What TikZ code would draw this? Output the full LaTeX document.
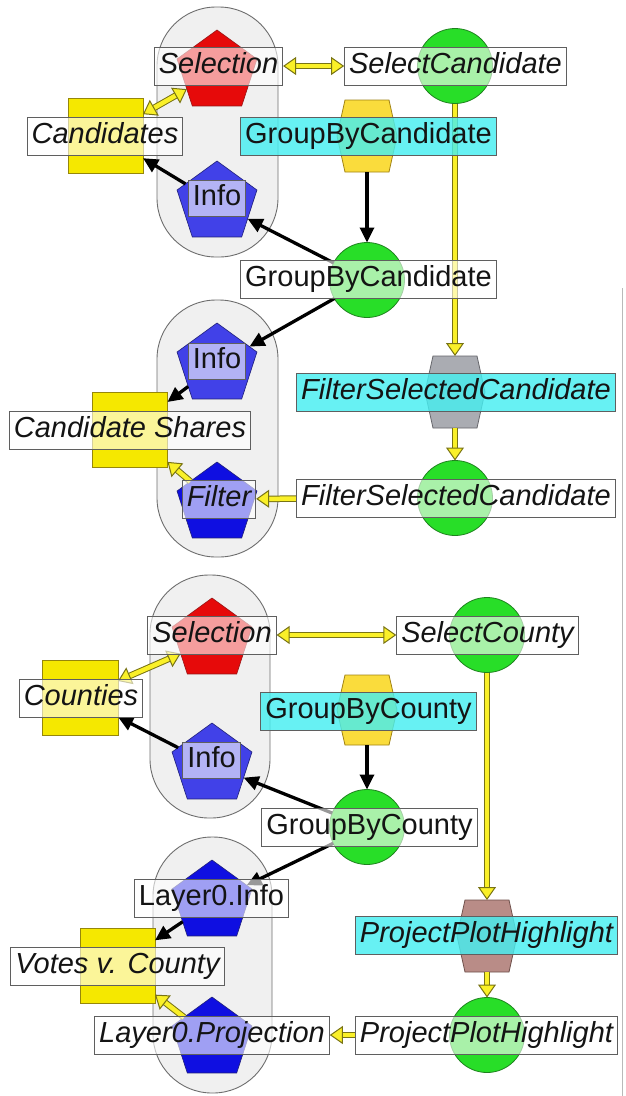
\documentclass[tikz,border=0pt]{standalone}
\usepackage{fontspec}
\setmainfont{Liberation Sans}
\usetikzlibrary{shapes.geometric,arrows.meta}
\definecolor{capfill}{RGB}{240,240,240}
\definecolor{capdraw}{RGB}{110,110,110}
\definecolor{redp}{RGB}{230,10,10}
\definecolor{reddraw}{RGB}{150,20,20}
\definecolor{bluea}{RGB}{65,65,232}
\definecolor{blueb}{RGB}{15,15,225}
\definecolor{bluedraw}{RGB}{30,30,120}
\definecolor{ylw}{RGB}{245,232,0}
\definecolor{ylwdraw}{RGB}{150,135,10}
\definecolor{grn}{RGB}{40,222,40}
\definecolor{grndraw}{RGB}{30,130,30}
\definecolor{hexy}{RGB}{250,220,60}
\definecolor{hexydraw}{RGB}{160,130,20}
\definecolor{hexg}{RGB}{170,172,178}
\definecolor{hexgdraw}{RGB}{100,100,105}
\definecolor{hexb}{RGB}{185,140,135}
\definecolor{hexbdraw}{RGB}{110,80,75}
\definecolor{cyn}{RGB}{70,238,240}
\definecolor{labdraw}{RGB}{95,95,95}
\definecolor{txt}{RGB}{20,20,20}
\definecolor{arry}{RGB}{250,240,40}
\definecolor{arrdraw}{RGB}{120,115,20}
\pgfdeclarelayer{capl}
\pgfdeclarelayer{shapel}
\pgfdeclarelayer{edgel}
\pgfsetlayers{capl,shapel,edgel,main}
\newcommand{\hexdraw}[2]{\draw[#2] ([xshift=8pt]#1.north west) -- ([xshift=-8pt]#1.north east) -- (#1.east) -- ([xshift=-8pt]#1.south east) -- ([xshift=8pt]#1.south west) -- (#1.west) -- cycle;}
\tikzset{
  capsule/.style={rectangle, draw=capdraw, fill=capfill, line width=0.9pt, rounded corners=59pt, inner sep=0pt},
  pent/.style={regular polygon, regular polygon sides=5, minimum size=84pt, inner sep=0pt, outer sep=0pt, line width=0.6pt},
  pred/.style={pent, fill=redp, draw=reddraw},
  pbluea/.style={pent, fill=bluea, draw=bluedraw},
  pblueb/.style={pent, fill=blueb, draw=bluedraw},
  ybox/.style={rectangle, minimum width=75pt, minimum height=75pt, fill=ylw, draw=ylwdraw, line width=0.8pt, inner sep=0pt, outer sep=0pt},
  disc/.style={circle, minimum size=75pt, fill=grn, draw=grndraw, line width=0.8pt, inner sep=0pt, outer sep=0pt},
  hexn/.style={rectangle, minimum width=60pt, minimum height=72pt, inner sep=0pt, outer sep=0pt},
  lab/.style={rectangle, draw=labdraw, line width=0.9pt, fill=white, fill opacity=0.6, text opacity=1, text=txt,
    font=\fontsize{29}{32}\selectfont, minimum height=38pt, text height=21pt, text depth=6pt, inner xsep=4.5pt, inner ysep=0pt},
  clab/.style={lab, fill=cyn, fill opacity=0.82},
  ytip/.tip={Triangle[length=13pt, width=18pt, fill=arry]},
  yline/.style={draw=arrdraw, line width=1pt, double=arry, double distance=4.5pt},
  ysgl/.style={yline, arrows={-ytip}},
  ydbl/.style={yline, arrows={ytip-ytip}},
  barr/.style={draw=black, line width=3.3pt, arrows={-{Triangle[length=15pt, width=14pt]}}},
}
\begin{document}
\begin{tikzpicture}[x=1pt, y=-1pt]
\useasboundingbox (0,0) rectangle (626,1096);
\draw[gray!55, line width=1pt] (622,288) -- (622,1096);

\begin{pgfonlayer}{capl}
  \node[capsule, minimum width=121pt, minimum height=250pt] (cap1) at (217.5,132) {};
  \node[capsule, minimum width=121pt, minimum height=257pt] (cap2) at (217.5,428.5) {};
  \node[capsule, minimum width=120pt, minimum height=243pt] (cap3) at (210,696.5) {};
  \node[capsule, minimum width=119pt, minimum height=256pt] (cap4) at (212.5,965) {};
\end{pgfonlayer}

\begin{pgfonlayer}{shapel}
  % top half
  \node[pred] (selP) at (217,72) {};
  \node[pbluea] (infoP) at (217,203) {};
  \node[pbluea] (info2P) at (217,365) {};
  \node[pblueb] (filtP) at (217,504) {};
  \node[ybox] (candR) at (105.5,135.5) {};
  \node[ybox] (csR) at (130,430) {};
  \node[disc] (scC) at (455,66) {};
  \node[disc] (gbcC) at (367,280) {};
  \node[disc] (fsC) at (455,498) {};
  \node[hexn] (gbcH) at (367,136) {};
  \hexdraw{gbcH}{fill=hexy, draw=hexydraw, line width=0.8pt}
  \node[hexn] (fshH) at (455,392) {};
  \hexdraw{fshH}{fill=hexg, draw=hexgdraw, line width=0.8pt}
  % bottom half
  \node[pred] (sel2P) at (212,640) {};
  \node[pbluea] (info3P) at (212,765) {};
  \node[pblueb] (l0iP) at (212,902) {};
  \node[pblueb] (l0pP) at (212,1039) {};
  \node[ybox, minimum width=76pt] (counR) at (80,697.5) {};
  \node[ybox] (votR) at (117.5,965.5) {};
  \node[disc] (scoC) at (487,635) {};
  \node[disc] (gbcoC) at (367,827) {};
  \node[disc] (pphC) at (487,1035) {};
  \node[hexn, minimum height=70pt] (gbcoH) at (367,710) {};
  \hexdraw{gbcoH}{fill=hexy, draw=hexydraw, line width=0.8pt}
  \node[hexn] (pphH) at (487,936) {};
  \hexdraw{pphH}{fill=hexb, draw=hexbdraw, line width=0.8pt}
\end{pgfonlayer}

% labels
\node[lab] (selL) at (218.5,66) {\itshape Selection};
\node[lab] (scL) at (455.5,66) {\itshape SelectCandidate};
\node[lab] (candL) at (105,136) {\itshape Candidates};
\node[clab] (gbcHL) at (368.5,136) {GroupByCandidate};
\node[lab, minimum height=36pt] (infoL) at (217,198) {Info};
\node[lab] (gbcL) at (368.5,279) {GroupByCandidate};
\node[lab, minimum height=36pt] (info2L) at (217,361) {Info};
\node[clab] (fshL) at (456,392) {\itshape FilterSelectedCandidate};
\node[lab] (csL) at (130,430) {\itshape Candidate Shares};
\node[lab] (filtL) at (219,499) {\itshape Filter};
\node[lab] (fsL) at (456,498) {\itshape FilterSelectedCandidate};

\node[lab] (sel2L) at (212,635) {\itshape Selection};
\node[lab] (scoL) at (487.5,635) {\itshape SelectCounty};
\node[lab] (counL) at (81,698) {\itshape Counties};
\node[lab, minimum height=36pt] (info3L) at (211.5,760) {Info};
\node[clab] (gbcoHL) at (368.5,711) {GroupByCounty};
\node[lab] (gbcoL) at (369.5,827) {GroupByCounty};
\node[lab] (l0iL) at (211.5,898) {Layer0.Info};
\node[lab] (votL) at (117.5,966) {\itshape Votes v. County};
\node[lab] (l0pL) at (212,1035) {\itshape Layer0.Projection};
\node[clab] (pphHL) at (486.5,935) {\itshape ProjectPlotHighlight};
\node[lab] (pphL) at (486.5,1035) {\itshape ProjectPlotHighlight};

\begin{pgfonlayer}{edgel}
  % top half
  \draw[ydbl] (selP) -- (candR);
  \draw[ydbl] (selL) -- (scL);
  \draw[barr] (infoP) -- (candR);
  \draw[barr] (gbcH.south) -- (gbcC);
  \draw[barr] (gbcC) -- (infoP);
  \draw[barr] (gbcC) -- (info2P);
  \draw[ysgl] (scC) -- (fshH.north);
  \draw[ysgl] (fshH.south) -- (fsC);
  \draw[ysgl] (fsL) -- (filtL);
  \draw[ysgl] (filtP) -- (csR);
  \draw[barr] (info2P) -- (csR);
  % bottom half
  \draw[ydbl] (sel2P) -- (counR);
  \draw[ydbl] (sel2L) -- (scoL);
  \draw[barr] (info3P) -- (counR);
  \draw[barr] (gbcoH.south) -- (gbcoC);
  \draw[barr] (gbcoC) -- (info3P);
  \draw[barr] (gbcoC) -- (l0iP);
  \draw[ysgl] (scoC) -- (pphH.north);
  \draw[ysgl] (pphH.south) -- (pphC);
  \draw[ysgl] (pphL) -- (l0pL);
  \draw[ysgl] (l0pP) -- (votR);
  \draw[barr] (l0iP) -- (votR);
\end{pgfonlayer}
\end{tikzpicture}
\end{document}
